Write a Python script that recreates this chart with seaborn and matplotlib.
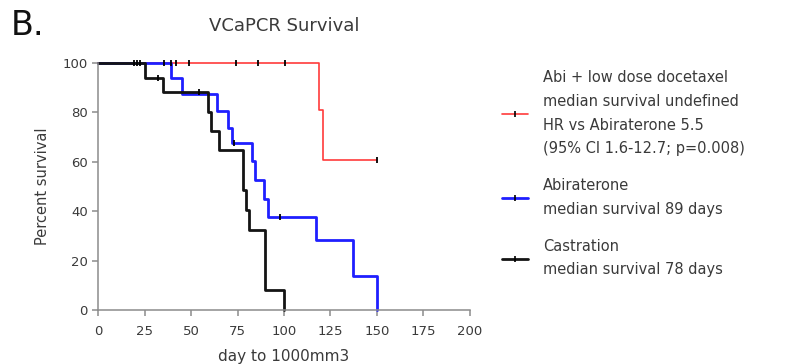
import matplotlib.pyplot as plt
from matplotlib.lines import Line2D
import seaborn as sns
import pandas as pd

# step points (day, percent survival after the step)
red_days = [0, 119, 121, 150]
red_surv = [100, 80.9, 60.6, 60.6]
red_cens_days = [19, 20.7, 22.5, 35.4, 39, 41.8, 49, 74, 86, 100.5, 150]
red_cens_surv = [100, 100, 100, 100, 100, 100, 100, 100, 100, 100, 60.6]

blue_days = [0, 39, 45, 64, 70, 72, 83, 84.5, 89, 91.5, 117, 137, 150]
blue_surv = [100, 93.8, 87.5, 80.6, 73.5, 67.4, 60.3, 52.6, 45.1, 37.5, 28.2, 13.9, 0]
blue_cens_days = [73, 98]
blue_cens_surv = [67.4, 37.5]

black_days = [0, 25, 35, 59, 60.5, 65, 78, 79.5, 81, 90, 100]
black_surv = [100, 94.1, 88.2, 80.2, 72.5, 64.8, 48.5, 40.5, 32.4, 8.1, 0]
black_cens_days = [32, 54]
black_cens_surv = [94.1, 88.2]

groups = ["Abi + low dose docetaxel", "Abiraterone", "Castration"]
labels = [
    "Abi + low dose docetaxel\nmedian survival undefined\nHR vs Abiraterone 5.5\n(95% CI 1.6-12.7; p=0.008)",
    "Abiraterone\nmedian survival 89 days",
    "Castration\nmedian survival 78 days",
]
colors = ["#ff3b3b", "#1f1fff", "#141414"]
widths = [1.2, 2.0, 2.0]

sns.set_style("white")
plt.rcParams["font.family"] = ["DejaVu Sans"]
txt = "#3a3a3a"
grey = "#8c8c8c"

curves = [(red_days, red_surv), (blue_days, blue_surv), (black_days, black_surv)]
cens = [(red_cens_days, red_cens_surv), (blue_cens_days, blue_cens_surv),
        (black_cens_days, black_cens_surv)]

fig = plt.figure(figsize=(7.88, 3.64), dpi=100)
ax = fig.add_axes([0.1247, 0.1484, 0.4714, 0.6786])

for g, (d, s), (cd, cs), c, w in zip(groups, curves, cens, colors, widths):
    df = pd.DataFrame({"day": d, "surv": s})
    sns.lineplot(data=df, x="day", y="surv", ax=ax, color=c, lw=w,
                 drawstyle="steps-post", estimator=None, clip_on=False)
    ax.plot(cd, cs, ls="none", marker="|", color="black", ms=5, mew=1.3,
            clip_on=False, zorder=5)

ax.set_xlim(0, 200)
ax.set_ylim(0, 100)
ax.set_xticks(range(0, 201, 25))
ax.set_yticks(range(0, 101, 20))
sns.despine(ax=ax)
for sp in ["left", "bottom"]:
    ax.spines[sp].set_color(grey)
    ax.spines[sp].set_linewidth(1.1)
ax.tick_params(axis="both", colors=grey, labelcolor=txt, labelsize=9.5,
               length=4, width=1.1, direction="out", left=True, bottom=True)
ax.tick_params(axis="x", pad=7)

ax.set_xlabel("day to 1000mm3", fontsize=11, color=txt, labelpad=8)
ax.set_ylabel("Percent survival", fontsize=10.5, color=txt, labelpad=9)
ax.set_title("VCaPCR Survival", fontsize=13, color=txt, pad=23)

fig.text(0.014, 0.93, "B.", fontsize=24, color="#111111", va="center")

handles = [Line2D([], [], color=c, lw=w, marker="|", mec="black", ms=4, mew=1.2)
           for c, w in zip(colors, widths)]
leg = fig.legend(handles, labels, loc="upper left", bbox_to_anchor=(0.628, 0.827),
                 frameon=False, fontsize=10.5, handlelength=1.8, handletextpad=1.0,
                 labelspacing=1.5, borderpad=0, numpoints=1)
for t in leg.get_texts():
    t.set_color(txt)
    t.set_linespacing(1.72)

fig.savefig("out.png", dpi=100)
